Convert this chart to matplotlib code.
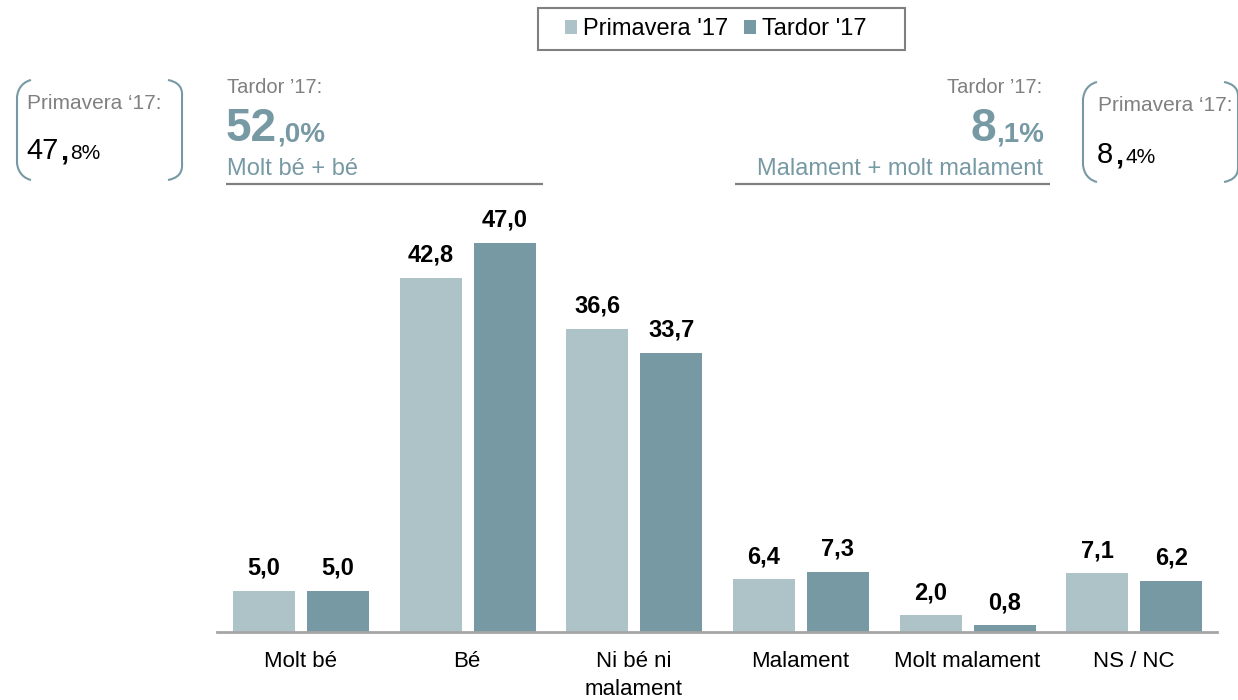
import matplotlib
matplotlib.use("Agg")
import matplotlib.pyplot as plt
import numpy as np
from matplotlib.path import Path
from matplotlib.patches import PathPatch, Rectangle

plt.rcParams['font.family'] = ['Liberation Sans', 'DejaVu Sans']

categories = ["Molt bé", "Bé", "Ni bé ni\nmalament", "Malament", "Molt malament", "NS / NC"]
primavera = [5.0, 42.8, 36.6, 6.4, 2.0, 7.1]
tardor = [5.0, 47.0, 33.7, 7.3, 0.8, 6.2]
series_labels = ["Primavera '17", "Tardor '17"]

LIGHT = "#ADC3C8"
DARK = "#7799A4"
TEAL_TXT = "#7799A4"
GRAY_TXT = "#808080"

W, H = 1238, 700
fig = plt.figure(figsize=(W / 100, H / 100), dpi=100)
ax = fig.add_axes([217 / W, 68 / H, 1000 / W, 414 / H])

x = np.arange(len(categories))
bw = 0.372
b1 = ax.bar(x - 0.218, primavera, bw, color=LIGHT, label=series_labels[0])
b2 = ax.bar(x + 0.226, tardor, bw, color=DARK, label=series_labels[1])

def fmt(v):
    return f"{v:.1f}".replace(".", ",")

for bars, vals in ((b1, primavera), (b2, tardor)):
    for r, v in zip(bars, vals):
        ax.annotate(fmt(v), (r.get_x() + r.get_width() / 2, r.get_height()),
                    xytext=(0, 11.5), textcoords="offset points",
                    ha="center", va="baseline", fontsize=17, fontweight="bold",
                    color="black")

ax.set_xlim(-0.5, len(categories) - 0.5)
ax.set_ylim(0, 50)
ax.set_xticks(x)
ax.set_xticklabels(categories, fontsize=16, linespacing=1.4)
ax.tick_params(axis="x", length=0, pad=14)
ax.set_yticks([])
for s in ["top", "right", "left"]:
    ax.spines[s].set_visible(False)
ax.spines["bottom"].set_color("#A6A6A6")
ax.spines["bottom"].set_linewidth(2)

leg = ax.legend(handles=[b1, b2], labels=series_labels, loc="center left",
                bbox_to_anchor=(565 / W, 1 - 29 / H), bbox_transform=fig.transFigure,
                ncol=2, frameon=False,
                handlelength=0.52, handleheight=0.52, handletextpad=0.25,
                columnspacing=0.65, borderpad=0.0, borderaxespad=0.0, fontsize=17)

# Overlay in pixel coordinates
ov = fig.add_axes([0, 0, 1, 1], facecolor="none")
ov.set_xlim(0, W)
ov.set_ylim(H, 0)
ov.axis("off")

# legend frame
ov.add_patch(Rectangle((538, 8), 367, 42, fill=False, edgecolor="#808080", lw=1.5))

renderer = fig.canvas.get_renderer()

def chain(xpos, ypos, parts, align="left"):
    texts = []
    gaps = []
    for p in parts:
        s, size, weight, color = p[:4]
        gap = p[4] if len(p) > 4 else 0
        t = ov.text(0, ypos, s, fontsize=size, fontweight=weight, color=color,
                    ha="left", va="baseline")
        texts.append(t)
        gaps.append(gap)
    widths = [t.get_window_extent(renderer=renderer).width for t in texts]
    total = sum(widths) + sum(gaps)
    cur = xpos if align == "left" else xpos - total
    for t, w, g in zip(texts, widths, gaps):
        cur += g
        t.set_x(cur)
        cur += w

# Left header (Tardor)
ov.text(227, 93, "Tardor \u201917:", fontsize=14.5, color=GRAY_TXT, ha="left", va="baseline")
chain(226, 141, [("52", 33, "bold", TEAL_TXT), (",0%", 20, "bold", TEAL_TXT)])
ov.text(227, 175, "Molt bé + bé", fontsize=17, color=TEAL_TXT, ha="left", va="baseline")
ov.plot([226, 543], [184, 184], color="#7F7F7F", lw=1.6, solid_capstyle="butt")

# Right header (Tardor)
ov.text(1042, 93, "Tardor \u201917:", fontsize=14.5, color=GRAY_TXT, ha="right", va="baseline")
chain(1044, 141, [("8", 33, "bold", TEAL_TXT), (",1%", 20, "bold", TEAL_TXT)], align="right")
ov.text(1043, 175, "Malament + molt malament", fontsize=17, color=TEAL_TXT, ha="right", va="baseline")
ov.plot([735, 1050], [184, 184], color="#7F7F7F", lw=1.6, solid_capstyle="butt")

# Bracket boxes
def paren(x_tip, x_end, y0, y1):
    r = 18
    verts = [(x_end, y0), (x_tip + 2, y0 + 3), (x_tip, y0 + r - 4), (x_tip, y0 + r),
             (x_tip, y1 - r),
             (x_tip, y1 - r + 4), (x_tip + 2, y1 - 3), (x_end, y1)]
    codes = [Path.MOVETO, Path.CURVE4, Path.CURVE4, Path.CURVE4,
             Path.LINETO, Path.CURVE4, Path.CURVE4, Path.CURVE4]
    ov.add_patch(PathPatch(Path(verts, codes), fill=False, edgecolor="#7799A4", lw=1.5))

paren(17, 31, 80, 180)
paren(182, 168, 80, 180)
paren(1083, 1097, 82, 182)
paren(1238, 1224, 82, 182)

ov.text(27, 109, "Primavera \u201817:", fontsize=15, color=GRAY_TXT, ha="left", va="baseline")
chain(26, 159, [("47", 21, "normal", "black"), (",", 21, "bold", "black", 2), ("8%", 15, "normal", "black", 2)])
ov.text(1098, 111, "Primavera \u201817:", fontsize=15, color=GRAY_TXT, ha="left", va="baseline")
chain(1097, 163, [("8", 21, "normal", "black"), (",", 21, "bold", "black", 2), ("4%", 15, "normal", "black", 2)])

fig.savefig("out.png", dpi=100)
